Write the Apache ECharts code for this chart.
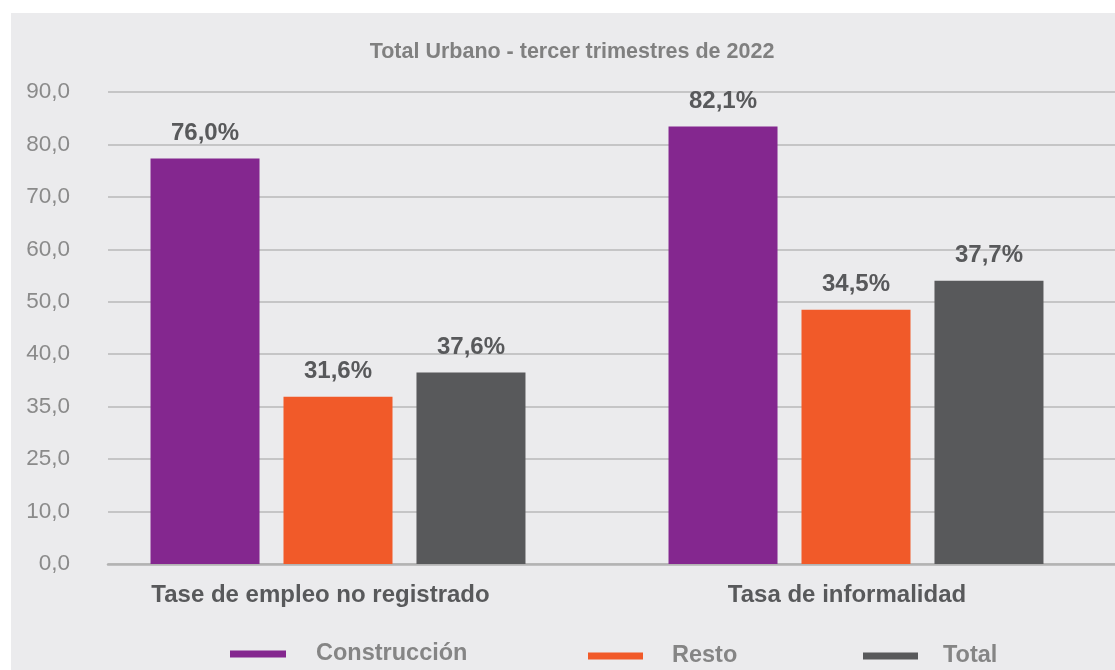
<!DOCTYPE html>
<html>
<head>
<meta charset="utf-8">
<script src="https://cdn.jsdelivr.net/npm/echarts@6/dist/echarts.min.js"></script>
<style>
html,body{margin:0;padding:0;background:#fff;}
#main{width:1115px;height:670px;background:linear-gradient(#EBEBED,#EBEBED) no-repeat 11px 13px / 1104px 657px, #fff;}
</style>
</head>
<body>
<div id="main"></div>
<script>
var categories = ['Tase de empleo no registrado', 'Tasa de informalidad'];
var seriesNames = ['Construcción', 'Resto', 'Total'];
// bar heights read against the evenly spaced gridlines (axis units)
var construccion = [77.3, 83.4];
var resto = [31.9, 48.5];
var total = [36.5, 54.0];
// printed value labels
var construccionLabels = ['76,0%', '82,1%'];
var restoLabels = ['31,6%', '34,5%'];
var totalLabels = ['37,6%', '37,7%'];
// printed y tick labels (evenly spaced)
var yTickLabels = ['0,0', '10,0', '25,0', '35,0', '40,0', '50,0', '60,0', '70,0', '80,0', '90,0'];
var title = 'Total Urbano - tercer trimestres de 2022';

var colors = ['#84278F', '#F15A29', '#58595B'];
var FONT = '"Liberation Sans", Arial, sans-serif';

var chart = echarts.init(document.getElementById('main'), null, {renderer: 'canvas'});

function labelCfg(texts) {
  return {
    show: true, position: 'top', distance: 13,
    color: '#58595B', fontFamily: FONT, fontWeight: 'bold', fontSize: 24,
    formatter: function (p) { return texts[p.dataIndex]; }
  };
}
var legendText = {color: '#858585', fontFamily: FONT, fontWeight: 'bold', fontSize: 23.5};

var option = {
  backgroundColor: 'transparent',
  animation: false,
  title: {
    text: title, left: 567, top: 36, textAlign: 'center',
    textStyle: {color: '#808080', fontFamily: FONT, fontWeight: 'bold', fontSize: 21.5}
  },
  legend: [
    {data: [seriesNames[0]], left: 230, top: 642, padding: 0, itemWidth: 56, itemHeight: 7, icon: 'rect',
     textStyle: Object.assign({padding: [0,0,0,25]}, legendText)},
    {data: [seriesNames[1]], left: 588, top: 644, padding: 0, itemWidth: 55, itemHeight: 7, icon: 'rect',
     textStyle: Object.assign({padding: [0,0,0,24]}, legendText)},
    {data: [seriesNames[2]], left: 863, top: 644, padding: 0, itemWidth: 55, itemHeight: 7, icon: 'rect',
     textStyle: Object.assign({padding: [0,0,0,20]}, legendText)}
  ],
  grid: [
    {left: 79, width: 1038, top: 92, bottom: 106},
    {left: 108, right: 0, top: 92, bottom: 106}
  ],
  xAxis: [
    {
      type: 'category', gridIndex: 0, data: categories,
      axisLine: {show: false}, axisTick: {show: false},
      axisLabel: {
        margin: 19,
        formatter: function (v, i) { return (i === 0 ? '{a|' : '{b|') + v + '}'; },
        rich: {
          a: {color: '#58595B', fontFamily: FONT, fontWeight: 'bold', fontSize: 24, padding: [0, 35, 0, 0]},
          b: {color: '#58595B', fontFamily: FONT, fontWeight: 'bold', fontSize: 24, padding: [0, 18, 0, 0]}
        }
      }
    },
    {
      type: 'value', gridIndex: 1, min: 0, max: 1,
      axisLine: {show: true, onZero: false, lineStyle: {color: '#B3B3B3', width: 2.5}},
      axisTick: {show: false}, axisLabel: {show: false}, splitLine: {show: false}
    }
  ],
  yAxis: [
    {type: 'value', gridIndex: 0, min: 0, max: 90, interval: 10, show: false, splitLine: {show: false}},
    {
      type: 'value', gridIndex: 1, min: 0, max: 90, interval: 10,
      axisLine: {show: false}, axisTick: {show: false},
      axisLabel: {
        margin: 38, color: '#8A8A8A', fontFamily: FONT, fontSize: 22.5,
        formatter: function (v) { return yTickLabels[Math.round(v / 10)]; }
      },
      splitLine: {show: true, lineStyle: {color: '#B8B8B8', width: 1.5}}
    }
  ],
  series: [
    {name: seriesNames[0], type: 'bar', xAxisIndex: 0, yAxisIndex: 0, data: construccion,
     barWidth: 109, barGap: '22%', itemStyle: {color: colors[0]}, label: labelCfg(construccionLabels), z: 3},
    {name: seriesNames[1], type: 'bar', xAxisIndex: 0, yAxisIndex: 0, data: resto,
     barWidth: 109, barGap: '22%', itemStyle: {color: colors[1]}, label: labelCfg(restoLabels), z: 3},
    {name: seriesNames[2], type: 'bar', xAxisIndex: 0, yAxisIndex: 0, data: total,
     barWidth: 109, barGap: '22%', itemStyle: {color: colors[2]}, label: labelCfg(totalLabels), z: 3}
  ]
};
chart.setOption(option);
</script>
</body>
</html>
